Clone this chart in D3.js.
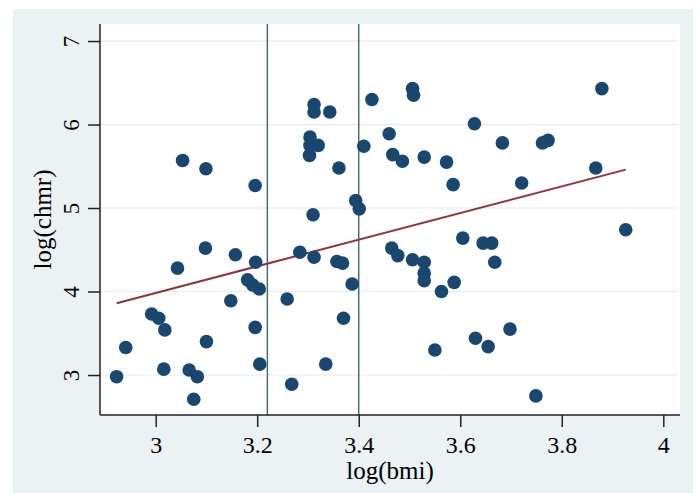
<!DOCTYPE html>
<meta charset="utf-8">
<html>
<head>
<style>
  body { margin: 0; background: #fff; }
  svg text { font-family: "Liberation Serif", "DejaVu Serif", serif; fill: #000; }
</style>
</head>
<body>
<div id="chart"><svg width="696" height="493"></svg></div>
</body>
</html>

<script src="https://d3js.org/d3.v7.min.js"></script>
<script>

// log(bmi) and log(chmr), one entry per country
var bmi = [2.923, 2.941, 2.992, 3.006, 3.018, 3.016, 3.043, 3.053, 3.099, 3.098,
  3.100, 3.066, 3.082, 3.075, 3.148, 3.157, 3.181, 3.191, 3.204, 3.197,
  3.196, 3.196, 3.205, 3.259, 3.268, 3.284, 3.312, 3.310, 3.312, 3.312,
  3.343, 3.304, 3.304, 3.320, 3.303, 3.335, 3.357, 3.368, 3.361, 3.370,
  3.387, 3.394, 3.401, 3.410, 3.426, 3.460, 3.467, 3.486, 3.465, 3.477,
  3.506, 3.506, 3.508, 3.529, 3.529, 3.529, 3.529, 3.550, 3.563, 3.573,
  3.586, 3.588, 3.605, 3.628, 3.630, 3.645, 3.662, 3.668, 3.655, 3.683,
  3.698, 3.721, 3.749, 3.762, 3.773, 3.867, 3.879, 3.926];
var chmr = [2.98, 3.33, 3.73, 3.68, 3.54, 3.07, 4.28, 5.57, 5.47, 4.52,
  3.40, 3.06, 2.98, 2.71, 3.89, 4.44, 4.14, 4.08, 4.03, 4.35,
  5.27, 3.57, 3.13, 3.91, 2.89, 4.47, 4.41, 4.92, 6.24, 6.15,
  6.15, 5.85, 5.75, 5.75, 5.63, 3.13, 4.36, 4.34, 5.48, 3.68,
  4.09, 5.09, 4.99, 5.74, 6.30, 5.89, 5.64, 5.56, 4.52, 4.43,
  4.38, 6.43, 6.35, 4.35, 4.22, 4.13, 5.61, 3.30, 4.00, 5.55,
  5.28, 4.11, 4.64, 6.01, 3.44, 4.58, 4.58, 4.35, 3.34, 5.78,
  3.55, 5.30, 2.75, 5.78, 5.81, 5.48, 6.43, 4.74];

// fitted line end points
var fitX = [2.923, 3.926];
var fitY = [3.86, 5.46];

// reference lines
var xLines = [3.22, 3.4];

var xTicks = [3, 3.2, 3.4, 3.6, 3.8, 4];
var yTicks = [3, 4, 5, 6, 7];

var points = bmi.map(function(b, i) { return {x: b, y: chmr[i]}; });

var svg = d3.select("svg");

var pL = 100, pR = 680, pT = 24, pB = 415;

var x = d3.scaleLinear().domain([2.8903, 4.0329]).range([pL, pR]);
var y = d3.scaleLinear().domain([2.521, 7.204]).range([pB, pT]);

var fmt = d3.format("~g");

// outer background panel
svg.append("rect")
    .attr("x", 13).attr("y", 9)
    .attr("width", 680).attr("height", 484)
    .attr("fill", "#eaf2f3");

// plot region
svg.append("rect")
    .attr("x", pL).attr("y", pT)
    .attr("width", pR - pL).attr("height", pB - pT)
    .attr("fill", "#fff");

// horizontal grid
svg.append("g")
  .selectAll("line")
  .data(yTicks)
  .enter().append("line")
    .attr("x1", pL).attr("x2", pR - 2)
    .attr("y1", function(d) { return y(d); })
    .attr("y2", function(d) { return y(d); })
    .attr("stroke", "#e8eaea")
    .attr("stroke-width", 1.2);

// xlines
svg.append("g")
  .selectAll("line")
  .data(xLines)
  .enter().append("line")
    .attr("x1", function(d) { return x(d); })
    .attr("x2", function(d) { return x(d); })
    .attr("y1", pT).attr("y2", pB)
    .attr("stroke", "#3d6b62")
    .attr("stroke-width", 1.4);

// linear fit
svg.append("line")
    .attr("x1", x(fitX[0])).attr("y1", y(fitY[0]))
    .attr("x2", x(fitX[1])).attr("y2", y(fitY[1]))
    .attr("stroke", "#90353b")
    .attr("stroke-width", 2);

// scatter
svg.append("g")
  .selectAll("circle")
  .data(points)
  .enter().append("circle")
    .attr("cx", function(d) { return x(d.x); })
    .attr("cy", function(d) { return y(d.y); })
    .attr("r", 6.8)
    .attr("fill", "#1a476f");

// axes
var xAxis = svg.append("g")
    .attr("transform", "translate(0," + pB + ")")
    .call(d3.axisBottom(x).tickValues(xTicks).tickSize(12).tickFormat(fmt));
xAxis.attr("font-family", null).attr("font-size", null);
xAxis.select(".domain").attr("d", "M" + pL + ",0H" + pR)
    .attr("stroke", "#222").attr("stroke-width", 1.5);
xAxis.selectAll(".tick line").attr("stroke", "#222").attr("stroke-width", 1.5);
xAxis.selectAll(".tick text")
    .attr("y", 38).attr("dy", null)
    .style("font-size", "24px")
    .attr("fill", "#222");

var yAxis = svg.append("g")
    .attr("transform", "translate(" + pL + ",0)")
    .call(d3.axisLeft(y).tickValues(yTicks).tickSize(12).tickFormat(fmt));
yAxis.attr("font-family", null).attr("font-size", null);
yAxis.select(".domain").attr("d", "M0," + pT + "V" + pB)
    .attr("stroke", "#222").attr("stroke-width", 1.5);
yAxis.selectAll(".tick line").attr("stroke", "#222").attr("stroke-width", 1.5);
yAxis.selectAll(".tick text")
    .attr("x", null).attr("dy", null)
    .attr("text-anchor", "middle")
    .attr("transform", "translate(-21,0) rotate(-90)")
    .style("font-size", "23px")
    .attr("fill", "#222");

// titles
svg.append("text")
    .attr("x", (pL + pR) / 2).attr("y", 479)
    .attr("text-anchor", "middle")
    .style("font-size", "25px")
    .text("log(bmi)");

svg.append("text")
    .attr("transform", "translate(51," + (pT + pB) / 2 + ") rotate(-90)")
    .attr("text-anchor", "middle")
    .style("font-size", "25px")
    .text("log(chmr)");

</script>
